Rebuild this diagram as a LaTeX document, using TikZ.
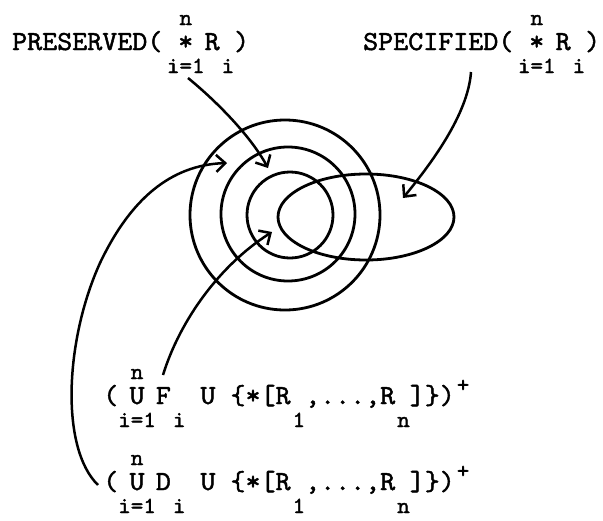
\documentclass[tikz,border=0pt]{standalone}
\usepackage{fontspec}
\usetikzlibrary{arrows.meta,shapes.geometric}

% letra de maquina
\newfontfamily\typew[Extension=.otf, FakeBold=1.6, FakeStretch=1.04]{lmmono10-regular}

% tamanos de texto
\newcommand\subsz{\fontsize{23}{25}\selectfont}
\newcommand\limop[3]{%
  \setbox0=\hbox{\subsz #3}%
  \makebox[\wd0]{#1}%
  \llap{\makebox[\wd0]{\raisebox{25pt}{\subsz #2}}}%
  \llap{\raisebox{-23pt}{\copy0}}}
\newcommand\lowsub[1]{\hspace{2pt}\raisebox{-23pt}{\subsz #1}}
\newcommand\upsup[1]{\hspace{2pt}\raisebox{12pt}{\subsz #1}}

\tikzset{
  lbl/.style={inner sep=0pt, anchor=base west, font=\typew\fontsize{27.5}{30}\selectfont},
  ring/.style={circle, draw, line width=2.8pt, inner sep=0pt},
  conn/.style={line width=2.5pt, -{Straight Barb[length=9pt,width=17pt]}}
}

\begin{document}
\begin{tikzpicture}[x=1pt,y=-1pt]
	\useasboundingbox (0,0) rectangle (603,520);
	
	% anillos
	\node[ring, minimum size=190pt] (outer) at (285,215) {};
	\node[ring, minimum size=134pt] (middle) at (288,214) {};
	\node[ring, minimum size=86pt] (inner) at (290,215) {};
	
	% elipse
	\node[ellipse, draw, line width=2.8pt, minimum width=176pt, minimum height=86pt] (spec) at (366,217) {};
	
	% textos
	\node[lbl] (pres) at (12,50) {PRESERVED(\,\limop{*}{n}{i=1}R\lowsub{i})};
	\node[lbl] (specl) at (363,50) {SPECIFIED(\,\limop{*}{n}{i=1}R\lowsub{i})};
	\node[lbl] (fset) at (103,404) {(\limop{U}{n}{i=1}F\lowsub{i} U \{*[R\lowsub{1},...,R\lowsub{n}]\})\upsup{+}};
	\node[lbl] (dset) at (103,490) {(\limop{U}{n}{i=1}D\lowsub{i} U \{*[R\lowsub{1},...,R\lowsub{n}]\})\upsup{+}};
	
	% puntas
	\coordinate (tipP) at (268,168);
	\coordinate (tipS) at (403,198);
	\coordinate (tipF) at (272,232);
	\coordinate (tipD) at (227,163);
	\coordinate (dbend) at (100,263);
	
	% flechas
	\draw[conn] ([xshift=176pt,yshift=-28pt]pres.base west) .. controls +(27,22) and +(-18,-33) .. (tipP);
	\draw[conn] ([xshift=108pt,yshift=-22pt]specl.base west) .. controls +(-3,43) and +(27,-33) .. (tipS);
	\draw[conn] ([xshift=60pt,yshift=29pt]fset.base west) .. controls +(17,-55) and +(-52,33) .. (tipF);
	\draw[conn] ([xshift=-5pt,yshift=5pt]dset.base west) .. controls +(-38,-37) and +(-35,77) .. (dbend)
		.. controls +(30,-63) and +(-57,2) .. (tipD);
\end{tikzpicture}
\end{document}
